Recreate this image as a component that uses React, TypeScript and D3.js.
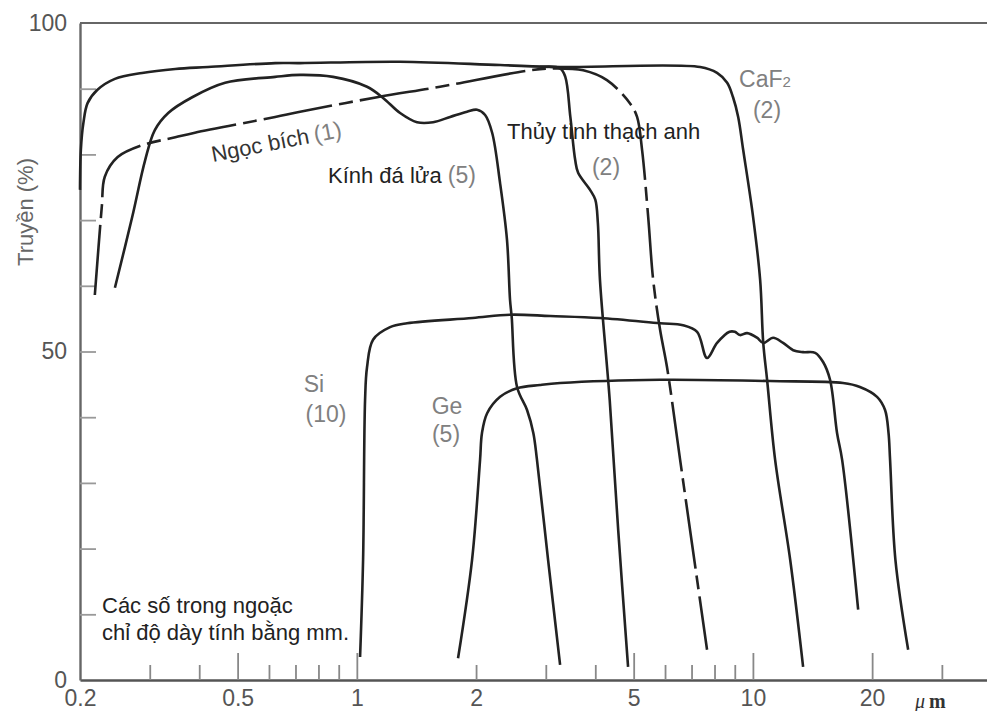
import React, { useEffect, useRef } from 'react';
import * as d3 from 'd3';

type Pt = [number, number];

// wavelength (µm), transmission (%)
const caf2: Pt[] = [
  [0.2, 74.6], [0.201, 80.7], [0.204, 84.8], [0.209, 87.8], [0.221, 89.8], [0.245, 91.5],
  [0.287, 92.4], [0.348, 93.0], [0.421, 93.3], [0.622, 93.9], [0.719, 93.9], [1.286, 94.1],
  [2.3, 93.6], [3.26, 93.3], [7.36, 93.3], [8.12, 92.4], [8.61, 90.9], [8.91, 88.7],
  [9.18, 85.7], [9.45, 80.7], [10.01, 70.5], [10.43, 60.9], [10.62, 51.3], [10.86, 45.7],
  [11.38, 33.5], [12.42, 18.3], [13.39, 2.0],
];

const sapphire: Pt[] = [
  [0.218, 58.6], [0.227, 72.0], [0.231, 76.6], [0.249, 79.6], [0.287, 81.4], [0.348, 82.6],
  [0.39, 83.3], [0.622, 85.7], [0.719, 86.5], [1.125, 88.7], [1.622, 90.3], [2.738, 92.8],
  [3.17, 93.1], [3.73, 92.8], [4.28, 91.3], [4.89, 87.8], [5.1, 85.7], [5.25, 80.7],
  [5.44, 70.5], [5.6, 60.9], [5.83, 53.3], [6.07, 47.6], [6.55, 33.5], [7.66, 4.6],
];

const quartz: Pt[] = [
  [2.9, 93.3], [3.26, 93.1], [3.36, 91.8], [3.46, 85.7], [3.56, 79.1], [3.62, 77.2],
  [3.88, 74.6], [4.0, 73.1], [4.06, 69.6], [4.11, 60.9], [4.35, 42.6], [4.57, 22.8], [4.84, 2.0],
];

const flint: Pt[] = [
  [0.245, 59.7], [0.271, 70.5], [0.292, 79.1], [0.309, 83.7], [0.334, 86.3], [0.384, 88.7],
  [0.465, 90.9], [0.622, 91.8], [0.719, 92.1], [0.871, 91.8], [1.061, 90.3], [1.165, 88.6],
  [1.286, 86.3], [1.419, 84.9], [1.558, 84.9], [1.72, 85.7], [1.898, 86.5], [2.012, 86.8],
  [2.108, 86.0], [2.196, 83.3], [2.3, 75.6], [2.394, 67.0], [2.437, 57.8], [2.46, 55.3],
  [2.538, 44.6], [2.69, 41.1], [2.79, 37.6], [2.85, 33.5], [3.04, 18.3], [3.26, 2.3],
];

const silicon: Pt[] = [
  [1.019, 3.5], [1.037, 18.3], [1.049, 42.6], [1.061, 47.6], [1.099, 51.8], [1.213, 53.7],
  [1.339, 54.3], [1.96, 55.1], [2.437, 55.6], [3.08, 55.4], [4.11, 55.1], [5.83, 54.3],
  [6.66, 54.0], [7.23, 53.0], [7.66, 49.0], [8.12, 51.3], [8.73, 53.0], [9.0, 53.0],
  [9.28, 52.5], [9.67, 52.8], [10.24, 52.1], [10.62, 51.3], [11.25, 52.1], [11.92, 51.3],
  [12.64, 50.2], [13.39, 49.9], [14.36, 49.8], [15.04, 48.4], [15.66, 45.7], [16.31, 37.6],
  [16.8, 33.5], [18.44, 10.7],
];

const germanium: Pt[] = [
  [1.801, 3.3], [1.954, 18.3], [2.047, 33.5], [2.07, 37.6], [2.133, 40.6], [2.3, 43.1],
  [2.538, 44.4], [2.9, 44.9], [3.26, 45.2], [5.83, 45.7], [11.05, 45.5], [16.89, 45.2],
  [18.63, 44.6], [20.58, 43.1], [21.56, 41.1], [22.0, 37.6], [22.2, 33.5], [22.9, 18.3],
  [24.66, 4.6],
];

const xLabels = [0.2, 0.5, 1, 2, 5, 10, 20];
const xMajorTicks = [0.5, 1, 5, 10, 20];
const xMinorTicks = [0.3, 0.4, 0.6, 0.7, 0.8, 0.9, 2, 3, 4, 6, 7, 8, 9, 30];
const yLabels = [0, 50, 100];
const yMinorTicks = [10, 20, 30, 40, 50, 60, 70, 80, 90];

const SANS = 'Liberation Sans, Arial, sans-serif';

const App: React.FC = () => {
  const svgRef = useRef<SVGSVGElement>(null);

  useEffect(() => {
    const width = 987;
    const height = 711;
    const svg = d3.select(svgRef.current)
      .attr('width', width)
      .attr('height', height)
      .attr('viewBox', [0, 0, width, height]);

    svg.selectAll('*').remove();

    const x = d3.scaleLog().domain([0.2, 39]).range([80, 987]);
    const y = d3.scaleLinear().domain([0, 100]).range([680, 23]);

    // frame: top line
    svg.append('line')
      .attr('x1', x(0.2)).attr('x2', width)
      .attr('y1', y(100)).attr('y2', y(100))
      .attr('stroke', '#666').attr('stroke-width', 2.2);

    // x axis
    const gxMajor = svg.append('g')
      .attr('transform', `translate(0,${y(0)})`)
      .call(d3.axisBottom(x).tickValues(xMajorTicks).tickSizeInner(-27).tickSizeOuter(0).tickFormat(() => ''));
    gxMajor.select('.domain').attr('stroke', '#555').attr('stroke-width', 2.4);
    gxMajor.selectAll('line').attr('stroke', '#888').attr('stroke-width', 1.8);

    const gxMinor = svg.append('g')
      .attr('transform', `translate(0,${y(0)})`)
      .call(d3.axisBottom(x).tickValues(xMinorTicks).tickSize(-15).tickFormat(() => ''));
    gxMinor.select('.domain').remove();
    gxMinor.selectAll('line').attr('stroke', '#888').attr('stroke-width', 1.8);

    const gxLab = svg.append('g')
      .attr('transform', `translate(0,${y(0)})`)
      .call(d3.axisBottom(x).tickValues(xLabels).tickSize(0).tickPadding(10).tickFormat(d => String(d)));
    gxLab.select('.domain').remove();
    gxLab.selectAll('text')
      .attr('font-family', SANS).attr('font-size', 23).attr('fill', '#555');

    // y axis
    const gy = svg.append('g')
      .attr('transform', `translate(${x(0.2)},0)`)
      .call(d3.axisLeft(y).tickValues(yMinorTicks).tickSizeInner(-16).tickSizeOuter(0).tickFormat(() => ''));
    gy.select('.domain').attr('stroke', '#666').attr('stroke-width', 2.4);
    gy.selectAll('line').attr('stroke', '#999').attr('stroke-width', 1.8);

    const gyLab = svg.append('g')
      .attr('transform', `translate(${x(0.2)},0)`)
      .call(d3.axisLeft(y).tickValues(yLabels).tickSize(0).tickPadding(13).tickFormat(d => String(d)));
    gyLab.select('.domain').remove();
    gyLab.selectAll('text')
      .attr('font-family', SANS).attr('font-size', 23).attr('fill', '#555');

    svg.append('text')
      .attr('transform', `translate(33,212) rotate(-90)`)
      .attr('text-anchor', 'middle')
      .attr('font-family', SANS).attr('font-size', 22).attr('fill', '#666')
      .text('Truyền (%)');

    const unit = svg.append('text')
      .attr('x', 915).attr('y', 708)
      .attr('font-family', 'Liberation Serif, DejaVu Serif, serif').attr('font-size', 20).attr('fill', '#333');
    unit.append('tspan').attr('font-style', 'italic').text('μ');
    unit.append('tspan').attr('dx', 4).attr('font-weight', 'bold').text('m');

    // curves
    const line = d3.line<Pt>()
      .x(d => x(d[0]))
      .y(d => y(d[1]))
      .curve(d3.curveCatmullRom.alpha(0.5));

    const series: { data: Pt[]; dash?: string }[] = [
      { data: caf2 },
      { data: quartz },
      { data: flint },
      { data: silicon },
      { data: germanium },
      { data: sapphire, dash: '70,7,14,7' },
    ];

    series.forEach(s => {
      svg.append('path')
        .datum(s.data)
        .attr('d', line)
        .attr('fill', 'none')
        .attr('stroke', '#222')
        .attr('stroke-width', 2.6)
        .attr('stroke-linejoin', 'round')
        .attr('stroke-dasharray', s.dash ?? null);
    });

    // annotations
    const dark = '#222';
    const grey = '#808080';

    const ngoc = svg.append('text')
      .attr('transform', 'translate(213,162) rotate(-11)')
      .attr('font-family', SANS).attr('font-size', 22);
    ngoc.append('tspan').attr('fill', '#333').text('Ngọc bích');
    ngoc.append('tspan').attr('dx', 5).attr('fill', grey).attr('font-size', 23).text('(1)');

    const kinh = svg.append('text')
      .attr('x', 328).attr('y', 183)
      .attr('font-family', SANS).attr('font-size', 22);
    kinh.append('tspan').attr('fill', dark).text('Kính đá lửa');
    kinh.append('tspan').attr('dx', 6).attr('fill', grey).attr('font-size', 23).text('(5)');

    svg.append('text')
      .attr('x', 507).attr('y', 139)
      .attr('font-family', SANS).attr('font-size', 22).attr('fill', dark)
      .text('Thủy tinh thạch anh');

    const greyLabel = (tx: number, ty: number, s: string) =>
      svg.append('text')
        .attr('x', tx).attr('y', ty)
        .attr('text-anchor', 'middle')
        .attr('font-family', SANS).attr('font-size', 23).attr('fill', grey)
        .text(s);

    greyLabel(606, 175, '(2)');

    const caf = svg.append('text')
      .attr('x', 765).attr('y', 87)
      .attr('text-anchor', 'middle')
      .attr('font-family', SANS).attr('font-size', 23).attr('fill', grey);
    caf.append('tspan').text('CaF');
    caf.append('tspan').attr('font-size', 15).text('2');
    greyLabel(767, 118, '(2)');

    greyLabel(314, 392, 'Si');
    greyLabel(326, 422, '(10)');
    greyLabel(447, 414, 'Ge');
    greyLabel(446, 442, '(5)');

    svg.append('text')
      .attr('x', 102).attr('y', 613)
      .attr('font-family', SANS).attr('font-size', 22).attr('fill', dark)
      .text('Các số trong ngoặc');
    svg.append('text')
      .attr('x', 102).attr('y', 640)
      .attr('font-family', SANS).attr('font-size', 22).attr('fill', dark)
      .text('chỉ độ dày tính bằng mm.');
  }, []);

  return (
    <svg ref={svgRef} style={{ position: 'absolute', left: 0, top: 0, background: '#fff', display: 'block' }}></svg>
  );
};

export default App;
